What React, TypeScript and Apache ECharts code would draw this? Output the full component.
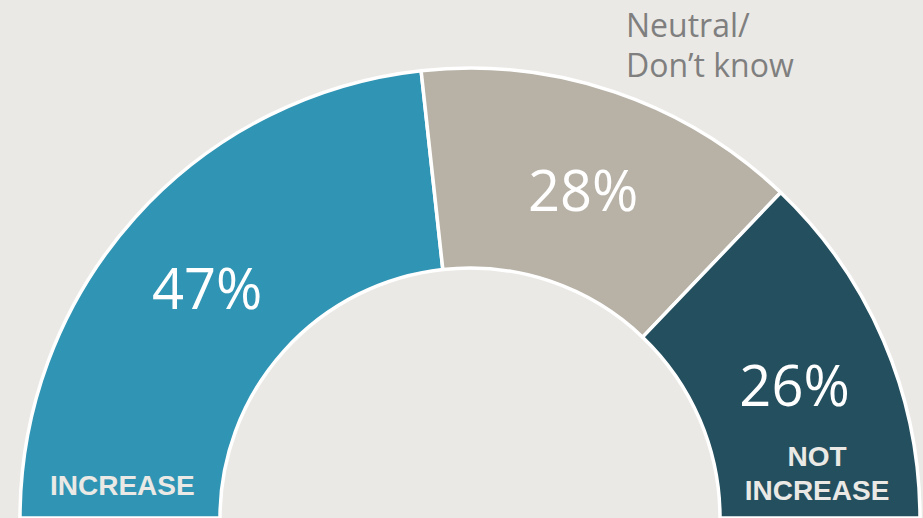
import React, { useEffect, useRef } from "react";
import * as echarts from "echarts";

const categories = ["INCREASE", "Neutral/Don't know", "NOT INCREASE"];
const values = [47, 28, 26];
const colors = ["#3095B4", "#B7B1A6", "#234F5E"];

export default function App() {
  const ref = useRef<HTMLDivElement>(null);
  useEffect(() => {
    if (!ref.current) return;
    const chart = echarts.init(ref.current, undefined, { renderer: "svg" });
    const catStyle = {
      fill: "#EBE9E5",
      font: "bold 28px 'Liberation Sans'",
      textVerticalAlign: "middle",
    };
    chart.setOption({
      animation: false,
      backgroundColor: "#EBE9E5",
      series: [
        {
          type: "pie",
          center: [470, 518],
          radius: [250, 450],
          startAngle: 180,
          endAngle: 0,
          clockwise: true,
          silent: true,
          itemStyle: { borderColor: "#FFFFFF", borderWidth: 3.5 },
          label: {
            show: true,
            position: "inside",
            formatter: "{c}%",
            color: "#FFFFFF",
            fontSize: 56,
            fontFamily: "Open Sans",
            fontWeight: "normal",
            offset: [0, 5],
          },
          labelLine: { show: false },
          data: categories.map((name, i) => ({
            name,
            value: values[i],
            itemStyle: { color: colors[i] },
          })),
        },
      ],
      graphic: [
        {
          type: "text",
          z: 100,
          x: 50,
          y: 485,
          style: { ...catStyle, text: "INCREASE", textAlign: "left" },
        },
        {
          type: "text",
          z: 100,
          x: 817,
          y: 456,
          style: { ...catStyle, text: "NOT", textAlign: "center" },
        },
        {
          type: "text",
          z: 100,
          x: 817,
          y: 490,
          style: { ...catStyle, text: "INCREASE", textAlign: "center" },
        },
        {
          type: "text",
          z: 100,
          x: 626,
          y: 4,
          style: {
            text: "Neutral/\nDon\u2019t know",
            fill: "#7F7F7F",
            font: "32px 'Open Sans'",
            lineHeight: 40,
          },
        },
      ],
    });
    return () => chart.dispose();
  }, []);
  return (
    <div
      ref={ref}
      style={{ position: "fixed", left: 0, top: 0, width: 923, height: 518 }}
    />
  );
}
